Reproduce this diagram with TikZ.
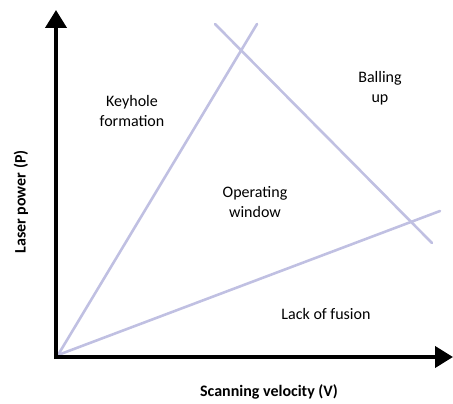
\documentclass[tikz,border=0pt]{standalone}
\usepackage{fontspec}
\setmainfont{Carlito}
\usetikzlibrary{arrows.meta}
\begin{document}
\begin{tikzpicture}[x=1pt,y=-1pt,
  axis/.style={line width=4pt,-{Triangle[width=21pt,length=18pt]}},
  region/.style={line width=2.6pt,draw=lav,line cap=round},
  lbl/.style={font=\fontsize{16}{20}\selectfont,align=center,inner sep=0pt},
  axlbl/.style={font=\bfseries\fontsize{16}{18}\selectfont,inner sep=0pt}]
\definecolor{lav}{RGB}{192,192,226}
\useasboundingbox (0,0) rectangle (453,404);
\coordinate (O) at (56,357);
\coordinate (Ytip) at (56,10);
\coordinate (Xtip) at (453,357);
\coordinate (L0) at (58,355);
\coordinate (A1) at (257,24);
\coordinate (B1) at (440,211);
\coordinate (C0) at (215,24);
\coordinate (C1) at (432,243);
\draw[region] (L0) -- (A1);
\draw[region] (L0) -- (B1);
\draw[region] (C0) -- (C1);
\draw[axis] ([yshift=-2pt]O) -- (Ytip);
\draw[axis] ([xshift=-2pt]O) -- (Xtip);
\node[lbl] (key) at (132,111) {Keyhole\\formation};
\node[lbl] (ball) at (380,88) {Balling\\up};
\node[lbl] (op) at (255,202) {Operating\\window};
\node[lbl] (lack) at (326,314) {Lack of fusion};
\node[axlbl,rotate=90] (ylab) at (21,202) {Laser power (P)};
\node[axlbl] (xlab) at (269,392) {Scanning velocity (V)};
\end{tikzpicture}
\end{document}
